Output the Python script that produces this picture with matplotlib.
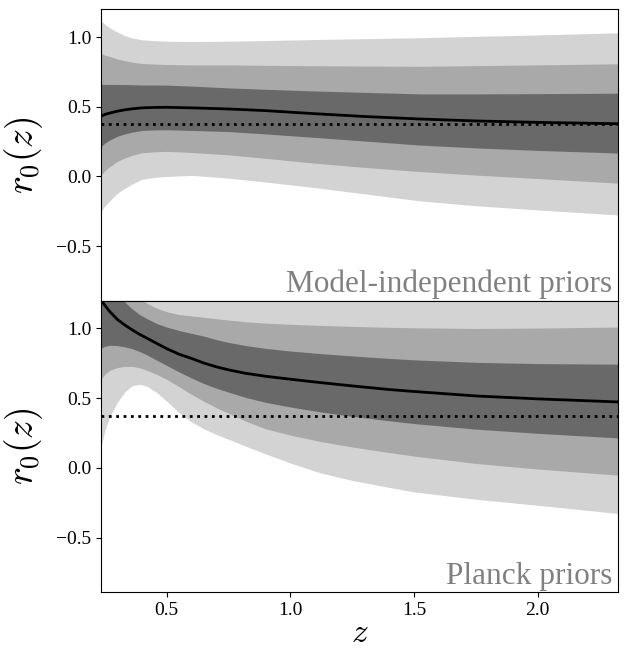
import numpy as np
import matplotlib
matplotlib.use("Agg")
import matplotlib.pyplot as plt

plt.rcParams["font.family"] = ["Liberation Serif", "DejaVu Serif"]
plt.rcParams["mathtext.fontset"] = "cm"

# ---------------------------------------------------------
# Données
# ---------------------------------------------------------

# Panneau du haut : priors indépendants du modèle
z_top = [0.235, 0.25, 0.27, 0.30, 0.33, 0.36, 0.40, 0.45, 0.50, 0.60,
         0.75, 0.90, 1.10, 1.30, 1.525, 1.75, 2.00, 2.325]
top_mean = [0.432, 0.445, 0.455, 0.468, 0.478, 0.485, 0.492, 0.495, 0.496,
            0.492, 0.484, 0.472, 0.450, 0.430, 0.412, 0.398, 0.388, 0.378]
top_1s_lo = [0.216, 0.240, 0.262, 0.288, 0.305, 0.318, 0.330, 0.334, 0.335,
             0.330, 0.322, 0.305, 0.280, 0.254, 0.225, 0.205, 0.187, 0.168]
top_1s_hi = [0.660, 0.660, 0.660, 0.660, 0.659, 0.658, 0.656, 0.656, 0.655,
             0.648, 0.635, 0.625, 0.613, 0.603, 0.592, 0.592, 0.594, 0.597]
top_2s_lo = [0.012, 0.042, 0.070, 0.108, 0.133, 0.152, 0.170, 0.177, 0.180,
             0.172, 0.155, 0.130, 0.095, 0.065, 0.035, 0.010, -0.015, -0.048]
top_2s_hi = [0.880, 0.870, 0.860, 0.842, 0.830, 0.820, 0.810, 0.806, 0.803,
             0.800, 0.800, 0.797, 0.794, 0.792, 0.790, 0.795, 0.800, 0.808]
top_3s_lo = [-0.250, -0.210, -0.175, -0.120, -0.085, -0.055, -0.020, -0.006,
             0.000, 0.008, -0.012, -0.040, -0.080, -0.125, -0.175, -0.210,
             -0.240, -0.276]
top_3s_hi = [1.115, 1.090, 1.065, 1.035, 1.010, 0.993, 0.980, 0.974, 0.970,
             0.968, 0.970, 0.975, 0.982, 0.988, 0.995, 1.005, 1.015, 1.030]

# Panneau du bas : priors Planck
z_bot = [0.235, 0.25, 0.27, 0.30, 0.33, 0.36, 0.39, 0.42, 0.46, 0.50,
         0.55, 0.60, 0.65, 0.70, 0.75, 0.82, 0.90, 1.00, 1.12, 1.25,
         1.40, 1.50, 1.75, 2.00, 2.325]
bot_mean = [1.200, 1.165, 1.120, 1.065, 1.025, 0.990, 0.958, 0.930, 0.892,
            0.855, 0.815, 0.785, 0.752, 0.725, 0.703, 0.678, 0.657, 0.636,
            0.612, 0.588, 0.562, 0.548, 0.516, 0.495, 0.473]
bot_1s_lo = [0.860, 0.872, 0.880, 0.877, 0.868, 0.855, 0.835, 0.810, 0.772,
             0.735, 0.688, 0.645, 0.605, 0.572, 0.543, 0.505, 0.470, 0.437,
             0.402, 0.370, 0.338, 0.318, 0.278, 0.248, 0.215]
bot_1s_hi = [1.450, 1.400, 1.350, 1.260, 1.190, 1.140, 1.100, 1.070, 1.035,
             1.010, 0.985, 0.965, 0.945, 0.920, 0.900, 0.877, 0.857, 0.838,
             0.820, 0.803, 0.785, 0.775, 0.757, 0.748, 0.744]
bot_2s_lo = [0.640, 0.672, 0.700, 0.720, 0.728, 0.728, 0.718, 0.700, 0.670,
             0.635, 0.582, 0.527, 0.478, 0.432, 0.392, 0.335, 0.280, 0.235,
             0.190, 0.150, 0.110, 0.085, 0.032, -0.008, -0.052]
bot_2s_hi = [1.800, 1.720, 1.650, 1.500, 1.400, 1.310, 1.230, 1.180, 1.145,
             1.120, 1.100, 1.090, 1.080, 1.070, 1.060, 1.048, 1.038, 1.030,
             1.022, 1.015, 1.008, 1.005, 1.000, 1.003, 1.010]
bot_3s_lo = [0.160, 0.270, 0.370, 0.470, 0.545, 0.590, 0.600, 0.585, 0.540,
             0.478, 0.395, 0.330, 0.280, 0.240, 0.205, 0.155, 0.100, 0.035,
             -0.035, -0.090, -0.140, -0.172, -0.225, -0.268, -0.327]
bot_3s_hi = [2.400, 2.350, 2.250, 2.100, 1.980, 1.880, 1.800, 1.720, 1.650,
             1.580, 1.530, 1.490, 1.460, 1.440, 1.420, 1.400, 1.380, 1.360,
             1.345, 1.335, 1.325, 1.320, 1.310, 1.305, 1.300]

r0_fid = 0.375

panels = [
    (z_top, top_mean, (top_1s_lo, top_1s_hi), (top_2s_lo, top_2s_hi),
     (top_3s_lo, top_3s_hi), "Model-independent priors"),
    (z_bot, bot_mean, (bot_1s_lo, bot_1s_hi), (bot_2s_lo, bot_2s_hi),
     (bot_3s_lo, bot_3s_hi), "Planck priors"),
]

# ---------------------------------------------------------
# Figure
# ---------------------------------------------------------

fig, axes = plt.subplots(2, 1, figsize=(6.25, 6.52), dpi=100, sharex=True)
fig.subplots_adjust(left=0.162, right=0.989, top=0.986, bottom=0.092,
                    hspace=0.0)

for ax, (z, mean, s1, s2, s3, label) in zip(axes, panels):
    ax.fill_between(z, s3[0], s3[1], color="lightgray", lw=0)
    ax.fill_between(z, s2[0], s2[1], color="darkgray", lw=0)
    ax.fill_between(z, s1[0], s1[1], color="dimgray", lw=0)
    ax.plot(z, mean, color="black", lw=2)
    ax.axhline(r0_fid, color="black", ls=":", lw=2)

    ax.set_xlim(0.235, 2.325)
    ax.set_ylim(-0.89, 1.2)
    ax.set_yticks([-0.5, 0.0, 0.5, 1.0])
    ax.set_ylabel(r"$r_0(z)$", fontsize=27, labelpad=8)
    ax.tick_params(axis="both", labelsize=14)

    ax.text(0.988, 0.005, label, transform=ax.transAxes,
            ha="right", va="bottom", fontsize=22.5, color="gray")

axes[1].set_xticks([0.5, 1.0, 1.5, 2.0])
axes[1].set_xlabel(r"$z$", fontsize=24, labelpad=0)

plt.savefig("out.png", dpi=100)
